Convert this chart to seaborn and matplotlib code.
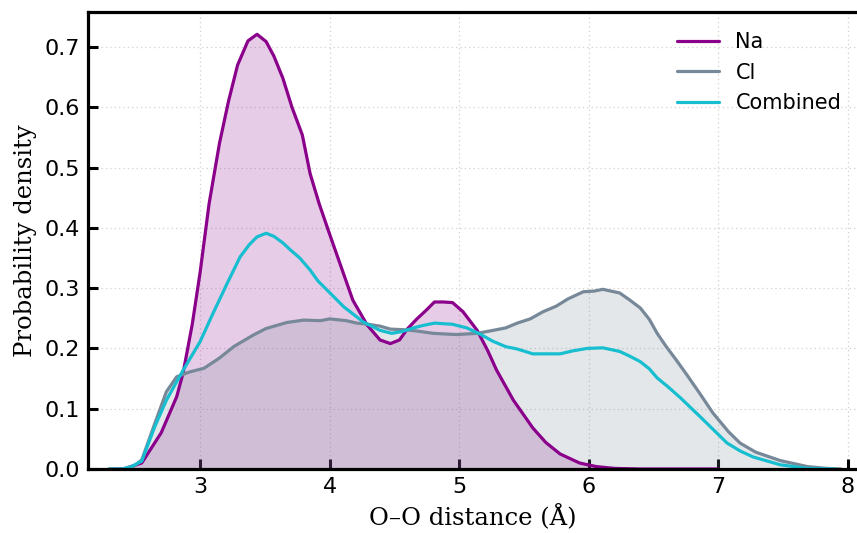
import numpy as np
import pandas as pd
import seaborn as sns
import matplotlib
matplotlib.use("Agg")
import matplotlib.pyplot as plt

# ---- data ----
na_x = [2.30, 2.41, 2.55, 2.70, 2.82, 2.87, 2.94, 3.00, 3.07, 3.15, 3.22, 3.29, 3.37, 3.44,
        3.51, 3.57, 3.64, 3.71, 3.79, 3.85, 3.92, 4.00, 4.09, 4.18, 4.29, 4.39, 4.47, 4.54,
        4.60, 4.67, 4.74, 4.81, 4.88, 4.95, 5.03, 5.14, 5.22, 5.29, 5.42, 5.57, 5.67, 5.78,
        5.93, 6.06, 6.20, 6.40, 6.70, 7.00]
na_y = [0.000, 0.000, 0.010, 0.060, 0.120, 0.160, 0.240, 0.325, 0.440, 0.540, 0.610, 0.670,
        0.710, 0.721, 0.709, 0.685, 0.648, 0.600, 0.554, 0.490, 0.440, 0.390, 0.335, 0.280,
        0.239, 0.214, 0.208, 0.214, 0.232, 0.248, 0.262, 0.277, 0.277, 0.276, 0.261, 0.230,
        0.197, 0.164, 0.114, 0.068, 0.044, 0.025, 0.010, 0.004, 0.001, 0.000, 0.000, 0.000]

cl_x = [2.30, 2.40, 2.48, 2.55, 2.65, 2.74, 2.82, 2.92, 3.03, 3.15, 3.26, 3.41, 3.51, 3.67,
        3.80, 3.93, 4.00, 4.13, 4.21, 4.30, 4.39, 4.47, 4.58, 4.67, 4.80, 4.98, 5.14, 5.24,
        5.36, 5.45, 5.55, 5.65, 5.75, 5.84, 5.96, 6.04, 6.11, 6.24, 6.32, 6.40, 6.47, 6.53,
        6.60, 6.68, 6.76, 6.86, 6.96, 7.08, 7.17, 7.29, 7.48, 7.69, 7.84, 7.95]
cl_y = [0.000, 0.000, 0.003, 0.015, 0.075, 0.128, 0.153, 0.161, 0.167, 0.184, 0.203, 0.222,
        0.233, 0.243, 0.247, 0.246, 0.249, 0.246, 0.242, 0.240, 0.237, 0.232, 0.231, 0.229,
        0.225, 0.223, 0.225, 0.229, 0.234, 0.242, 0.249, 0.261, 0.270, 0.282, 0.294, 0.295,
        0.298, 0.292, 0.280, 0.267, 0.248, 0.225, 0.203, 0.180, 0.156, 0.125, 0.093, 0.062,
        0.043, 0.028, 0.014, 0.004, 0.001, 0.000]

co_x = [2.30, 2.40, 2.47, 2.55, 2.65, 2.74, 2.87, 3.00, 3.10, 3.21, 3.31, 3.38, 3.44, 3.51,
        3.57, 3.64, 3.70, 3.77, 3.85, 3.91, 3.98, 4.11, 4.26, 4.39, 4.48, 4.56, 4.65, 4.72,
        4.81, 4.95, 5.06, 5.16, 5.26, 5.36, 5.45, 5.57, 5.67, 5.78, 5.88, 5.99, 6.11, 6.24,
        6.32, 6.40, 6.47, 6.53, 6.61, 6.71, 6.87, 7.07, 7.17, 7.27, 7.48, 7.69, 7.90]
co_y = [0.000, 0.000, 0.004, 0.013, 0.070, 0.114, 0.164, 0.211, 0.258, 0.308, 0.352, 0.372,
        0.385, 0.391, 0.386, 0.375, 0.363, 0.350, 0.330, 0.312, 0.297, 0.269, 0.244, 0.230,
        0.225, 0.228, 0.234, 0.238, 0.242, 0.240, 0.234, 0.224, 0.212, 0.203, 0.199, 0.191,
        0.191, 0.191, 0.196, 0.200, 0.201, 0.195, 0.187, 0.178, 0.166, 0.151, 0.137, 0.118,
        0.085, 0.043, 0.030, 0.020, 0.007, 0.001, 0.000]

labels = ["Na", "Cl", "Combined"]
colors = {"Na": "#8b008b", "Cl": "#778899", "Combined": "#17becf"}

df = pd.concat([
    pd.DataFrame({"x": na_x, "y": na_y, "ion": "Na"}),
    pd.DataFrame({"x": cl_x, "y": cl_y, "ion": "Cl"}),
    pd.DataFrame({"x": co_x, "y": co_y, "ion": "Combined"}),
], ignore_index=True)

sns.set_style("white")
plt.rcParams["font.family"] = ["DejaVu Sans"]
plt.rcParams["text.color"] = "black"
plt.rcParams["axes.labelcolor"] = "black"

fig = plt.figure(figsize=(8.57, 5.33), dpi=100)
ax = fig.add_axes([88 / 857, 1 - 469 / 533, 1 - 88 / 857, (469 - 12) / 533])

ax.fill_between(na_x, na_y, color=colors["Na"], alpha=0.2, linewidth=0)
ax.fill_between(cl_x, cl_y, color=colors["Cl"], alpha=0.2, linewidth=0)

sns.lineplot(data=df, x="x", y="y", hue="ion", hue_order=labels, palette=colors,
             linewidth=2.3, sort=False, estimator=None, ax=ax)

ax.set_xlim(2.135, 8.073)
ax.set_ylim(0, 0.758)
ax.set_xticks([3, 4, 5, 6, 7, 8])
ax.set_yticks([0.0, 0.1, 0.2, 0.3, 0.4, 0.5, 0.6, 0.7])
ax.set_yticklabels(["0.0", "0.1", "0.2", "0.3", "0.4", "0.5", "0.6", "0.7"])

ax.grid(True, linestyle=(0, (1, 2.5)), color="#d0d0d0", linewidth=0.9)
ax.set_axisbelow(True)

for side in ["left", "bottom", "top"]:
    ax.spines[side].set_visible(True)
    ax.spines[side].set_linewidth(2.3)
    ax.spines[side].set_color("black")
ax.spines["right"].set_visible(False)

ax.tick_params(axis="both", direction="in", length=7, width=2.2, labelsize=16,
               colors="black", bottom=True, left=True, top=False, right=False, pad=6)

ax.set_xlabel("O–O distance (Å)", fontsize=17.5, family="DejaVu Serif", labelpad=5)
ax.set_ylabel("Probability density", fontsize=17.5, family="DejaVu Serif", labelpad=5)

leg = ax.legend(loc="upper right", frameon=False, fontsize=15, handlelength=2.0,
                borderaxespad=0.5, labelspacing=0.5, bbox_to_anchor=(1.004, 0.997))
for t in leg.get_texts():
    t.set_color("black")

fig.savefig("out.png", dpi=100)
